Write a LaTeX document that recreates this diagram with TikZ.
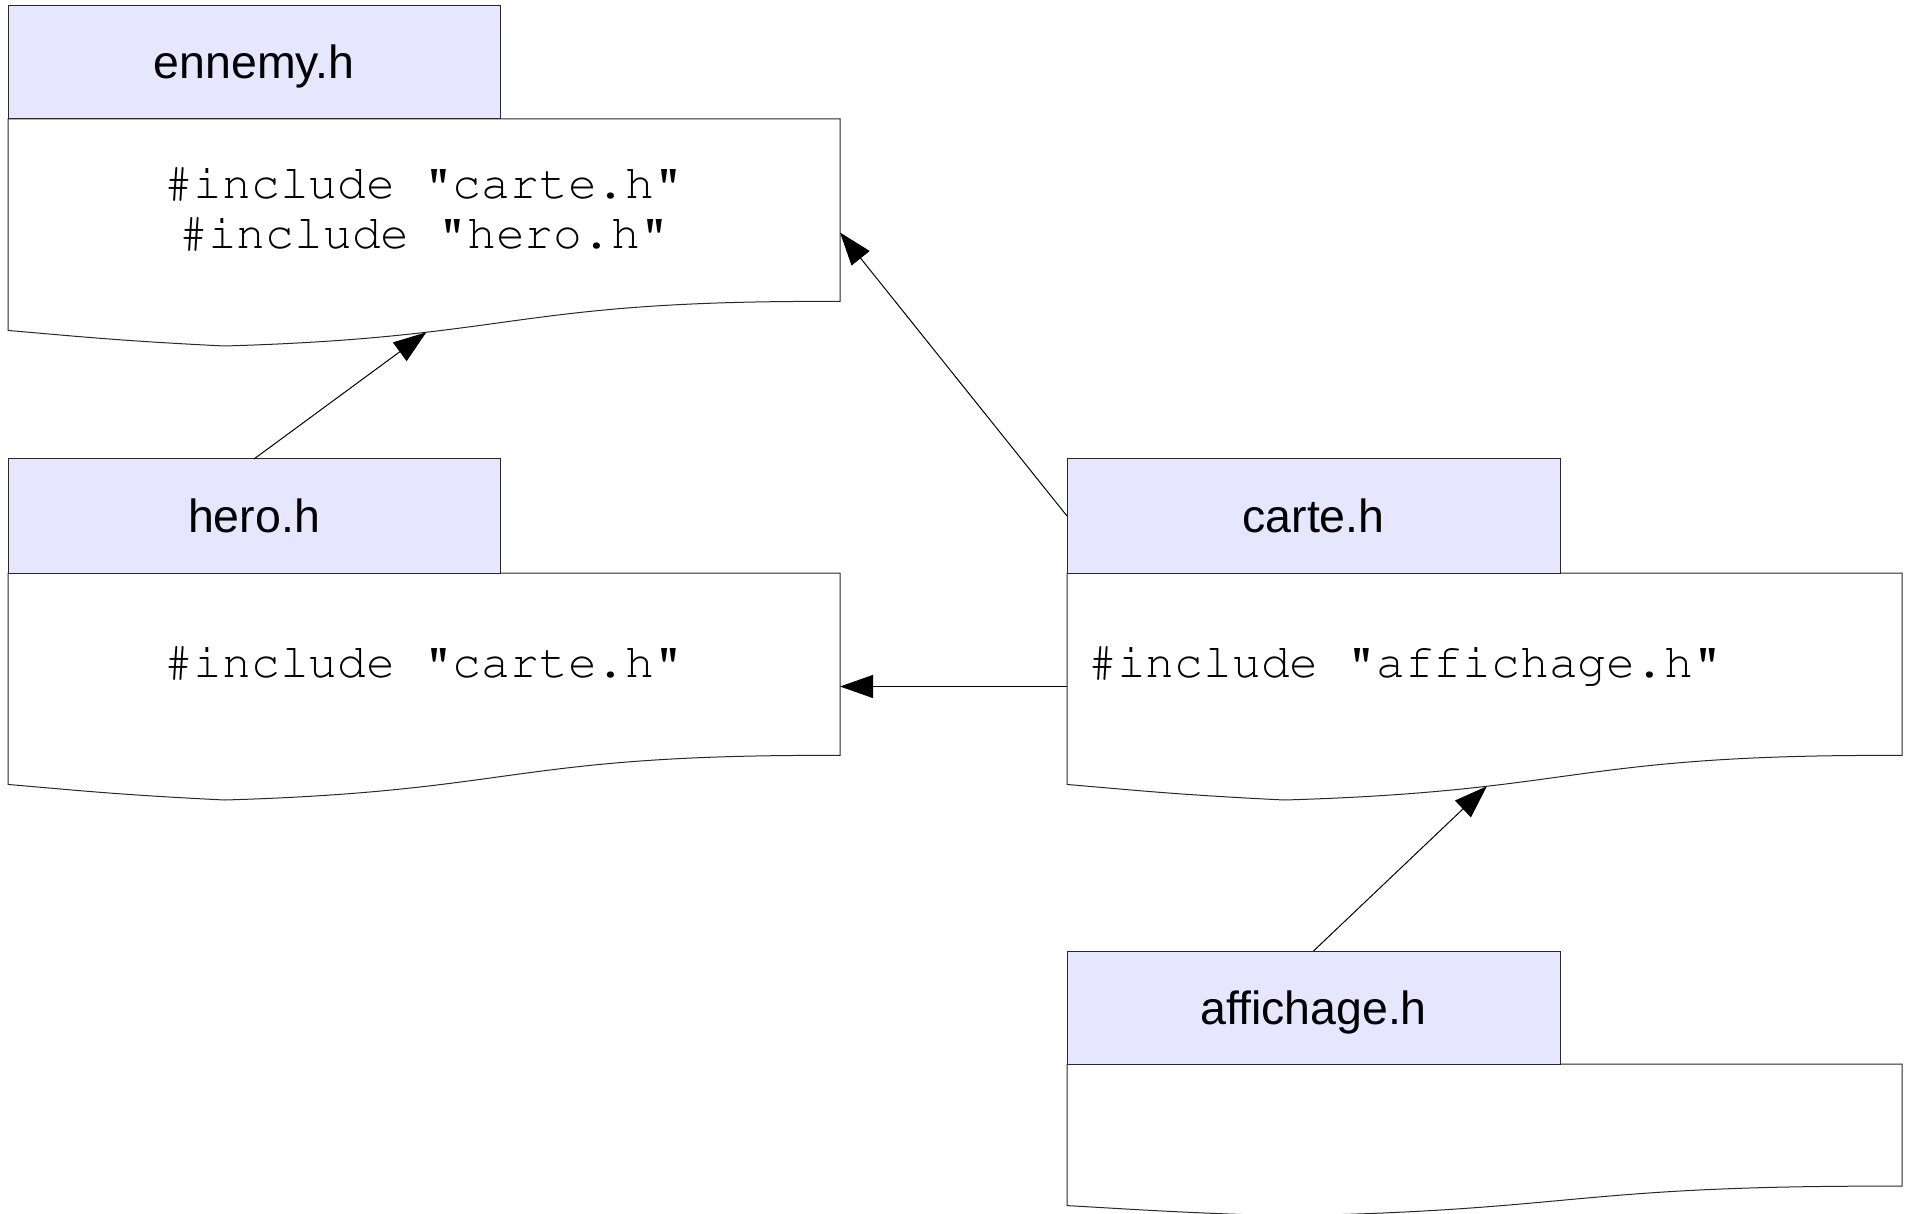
\documentclass[tikz,border=0pt]{standalone}
\usepackage[T1,TU]{fontenc}
\usepackage{fontspec}
\setmainfont{Liberation Sans}
% thin Courier for the code lines
\newcommand\codefont{\fontencoding{T1}\fontfamily{pcr}\fontseries{m}\fontshape{n}\selectfont}
\usetikzlibrary{arrows.meta}

\definecolor{headfill}{RGB}{230,230,255}
\definecolor{edgegray}{RGB}{40,40,40}

\tikzset{
  header/.style={draw=edgegray, fill=headfill, line width=1pt, inner sep=0pt, outer sep=0pt,
                 minimum height=113pt, anchor=north west},
  bodybox/.style={inner sep=0pt, outer sep=0pt, anchor=north west},
  docframe/.style={draw=edgegray, fill=white, line width=1pt},
  title/.style={anchor=base, inner sep=0pt, font=\fontsize{46.5pt}{50pt}\selectfont},
  code/.style={anchor=base, inner sep=0pt, font=\codefont\fontsize{48pt}{50pt}\selectfont},
  dep/.style={draw=black, line width=1pt, -{Triangle[length=33pt,width=23pt]}},
}

% document-shaped body: x0, y0, width, height, name of a point on the wavy edge
\newcommand\docbody[5]{%
  \path[docframe] (#1,#2) -- ({#1+#3},#2) -- ({#1+#3},{#2+0.8037*#4})
    .. controls ({#1+0.6042*#3},{#2+0.7972*#4}) and ({#1+0.6176*#3},{#2+0.9616*#4})
    .. ({#1+0.2602*#3},{#2+#4}) coordinate[pos=0.7] (#5)
    .. controls ({#1+0.1324*#3},{#2+0.9769*#4}) and ({#1+0.0856*#3},{#2+0.9583*#4})
    .. (#1,{#2+0.9315*#4}) -- cycle;
}

\begin{document}
\begin{tikzpicture}[x=1pt, y=-1pt]
\useasboundingbox (0,0) rectangle (1907,1214);
\clip (0,0) rectangle (1907,1214);

% ennemy.h
\docbody{8}{119}{832}{227}{ennWave}
\node[bodybox, minimum width=832pt, minimum height=227pt] (ennBody) at (8,119) {};
\node[header, minimum width=492pt] (ennHead) at (8,6) {};
\node[title] (ennTitle) at (254,79) {ennemy.h};
\node[code] (ennIncA) at (424,199) {\#include "carte.h"};
\node[code] (ennIncB) at (424,249) {\#include "hero.h"};

% hero.h
\docbody{8}{573}{832}{227}{heroWave}
\node[bodybox, minimum width=832pt, minimum height=227pt] (heroBody) at (8,573) {};
\node[header, minimum width=492pt, minimum height=114pt] (heroHead) at (8,459) {};
\node[title] (heroTitle) at (254,532) {hero.h};
\node[code] (heroInc) at (424,677) {\#include "carte.h"};

% carte.h
\docbody{1067}{573}{835}{227}{carteWave}
\node[bodybox, minimum width=835pt, minimum height=227pt] (carteBody) at (1067,573) {};
\node[header, minimum width=493pt, minimum height=114pt] (carteHead) at (1067,459) {};
\node[title] (carteTitle) at (1313.5,532) {carte.h};
\node[code, anchor=base west] (carteInc) at (1088,677) {\#include "affichage.h"};

% affichage.h
\docbody{1067}{1064}{835}{152}{affWave}
\node[bodybox, minimum width=835pt, minimum height=152pt] (affBody) at (1067,1064) {};
\node[header, minimum width=493pt] (affHead) at (1067,951) {};
\node[title] (affTitle) at (1313.5,1024) {affichage.h};

% include dependencies
\draw[dep] (heroHead.north) -- (ennWave);
\draw[dep] (carteHead.west) -- (ennBody.east);
\draw[dep] (carteBody.west) -- (heroBody.east);
\draw[dep] (affHead.north) -- (carteWave);
\end{tikzpicture}
\end{document}
